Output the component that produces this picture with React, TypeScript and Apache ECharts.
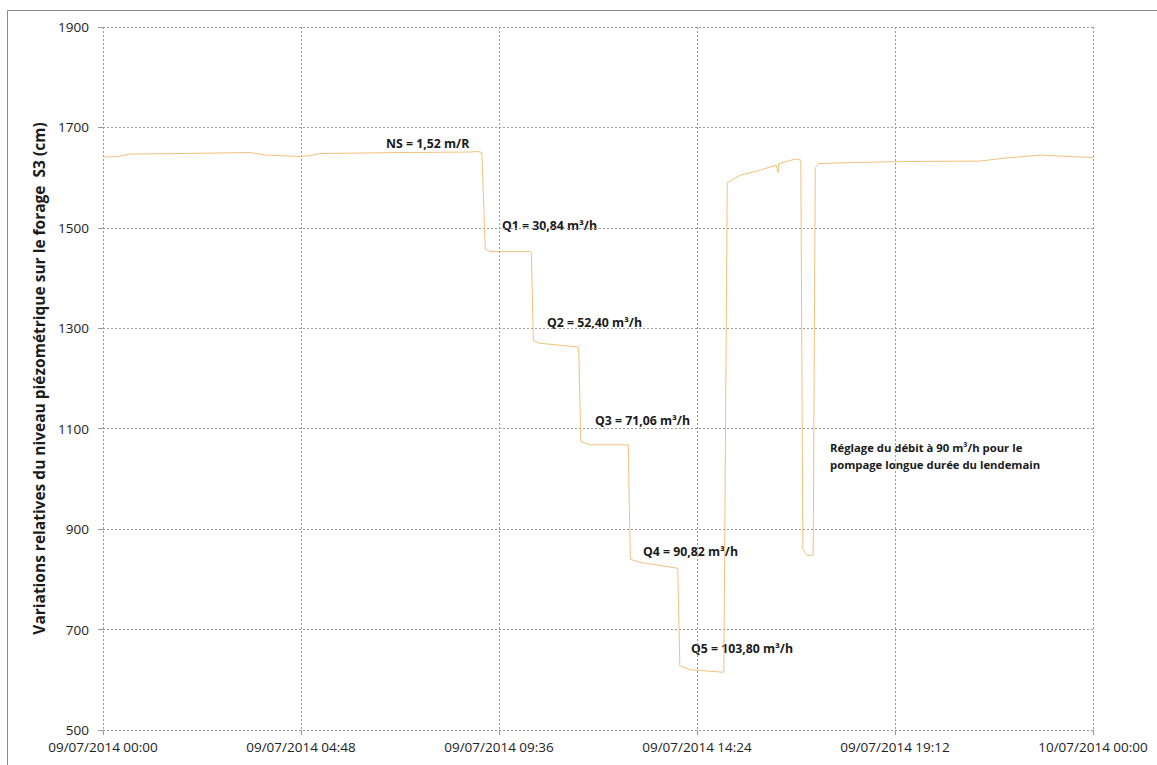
import React, { useEffect, useRef } from "react";
import * as echarts from "echarts";

// Elapsed time since 09/07/2014 00:00, in minutes
const minutes = [
  0, 22, 39, 112, 214, 236, 272, 287, 301, 316, 432, 534, 545, 551,
  556, 563, 621, 623,
  626, 636, 691, 692,
  695, 708, 764,
  767, 781, 836,
  839, 854, 903,
  908, 927, 956, 979, 982, 983, 1007, 1015,
  1018, 1024, 1033,
  1036, 1041, 1087, 1159, 1276, 1305, 1363, 1392, 1440,
];

// Relative piezometric level (cm)
const levels = [
  1641, 1642, 1647, 1648, 1650, 1645, 1643, 1642, 1644, 1648, 1650, 1651, 1652, 1650,
  1458, 1453, 1453, 1450,
  1275, 1270, 1263, 1255,
  1075, 1068, 1068,
  840, 834, 822,
  628, 620, 615,
  1590, 1605, 1615, 1625, 1610, 1628, 1637, 1635,
  860, 848, 848,
  1620, 1628, 1630, 1632, 1633, 1638, 1645, 1643, 1640,
];

const yTicks = [500, 700, 900, 1100, 1300, 1500, 1700, 1900];
const xTickLabels = [
  "09/07/2014 00:00",
  "09/07/2014 04:48",
  "09/07/2014 09:36",
  "09/07/2014 14:24",
  "09/07/2014 19:12",
  "10/07/2014 00:00",
];

const stepLabels = [
  "NS = 1,52 m/R",
  "Q1 = 30,84 m³/h",
  "Q2 = 52,40 m³/h",
  "Q3 = 71,06 m³/h",
  "Q4 = 90,82 m³/h",
  "Q5 = 103,80 m³/h",
];
const noteLines = [
  "Réglage du débit à 90 m³/h pour le",
  "pompage longue durée du lendemain",
];

const FONT = "'Open Sans', 'Liberation Sans', sans-serif";

export default function App() {
  const ref = useRef<HTMLDivElement>(null);

  useEffect(() => {
    if (!ref.current) return;
    const chart = echarts.init(ref.current, undefined, { renderer: "svg" });

    const labelPos: [number, number][] = [
      [386, 143],
      [502, 225],
      [547, 322],
      [595, 420],
      [643, 551],
      [691, 648],
    ];

    const graphics: any[] = [
      {
        type: "rect",
        shape: { x: 7.5, y: 10.5, width: 1160, height: 760 },
        style: { fill: "none", stroke: "#888", lineWidth: 1 },
        silent: true,
      },
      ...stepLabels.map((t, i) => ({
        type: "text",
        x: labelPos[i][0],
        y: labelPos[i][1],
        style: {
          text: t,
          fontFamily: FONT,
          fontWeight: "bold",
          fontSize: 12.3,
          fill: "#1a1a1a",
          verticalAlign: "middle",
        },
      })),
      ...noteLines.map((t, i) => ({
        type: "text",
        x: 830,
        y: 447 + i * 17,
        style: {
          text: t,
          fontFamily: FONT,
          fontWeight: "bold",
          fontSize: 11.3,
          fill: "#1a1a1a",
          verticalAlign: "middle",
        },
      })),
    ];

    chart.setOption({
      animation: false,
      backgroundColor: "#fff",
      grid: { left: 103, right: 64, top: 27, bottom: 35, containLabel: false },
      xAxis: {
        type: "value",
        min: 0,
        max: 1440,
        interval: 288,
        axisLine: { show: false },
        axisTick: { show: true, length: 5, lineStyle: { color: "#999" } },
        splitLine: { show: true, lineStyle: { color: "#999", type: [2, 2], width: 1 } },
        axisLabel: {
          margin: 10,
          fontFamily: FONT,
          fontSize: 13.5,
          lineHeight: 14,
          color: "#222",
          formatter: (v: number) => xTickLabels[Math.round(v / 288)] ?? "",
        },
      },
      yAxis: {
        type: "value",
        min: yTicks[0],
        max: yTicks[yTicks.length - 1],
        interval: 200,
        name: "Variations relatives du niveau piézométrique sur le forage  S3 (cm)",
        nameLocation: "middle",
        nameGap: 49,
        nameTextStyle: {
          fontFamily: FONT,
          fontWeight: "bold",
          fontSize: 15.5,
          color: "#1a1a1a",
        },
        axisLine: { show: false },
        axisTick: { show: true, length: 5, lineStyle: { color: "#999" } },
        splitLine: { show: true, lineStyle: { color: "#999", type: [2, 2], width: 1 } },
        axisLabel: {
          margin: 14,
          fontFamily: FONT,
          fontSize: 13.5,
          lineHeight: 14,
          color: "#222",
          formatter: (v: number) => String(v),
        },
      },
      series: [
        {
          type: "line",
          data: minutes.map((m, i) => [m, levels[i]]),
          showSymbol: false,
          lineStyle: { color: "#f4c07a", width: 1 },
          silent: true,
        },
      ],
      graphic: graphics,
    });

    return () => chart.dispose();
  }, []);

  return (
    <div
      ref={ref}
      style={{ position: "fixed", left: 0, top: 0, width: 1157, height: 765 }}
    />
  );
}
